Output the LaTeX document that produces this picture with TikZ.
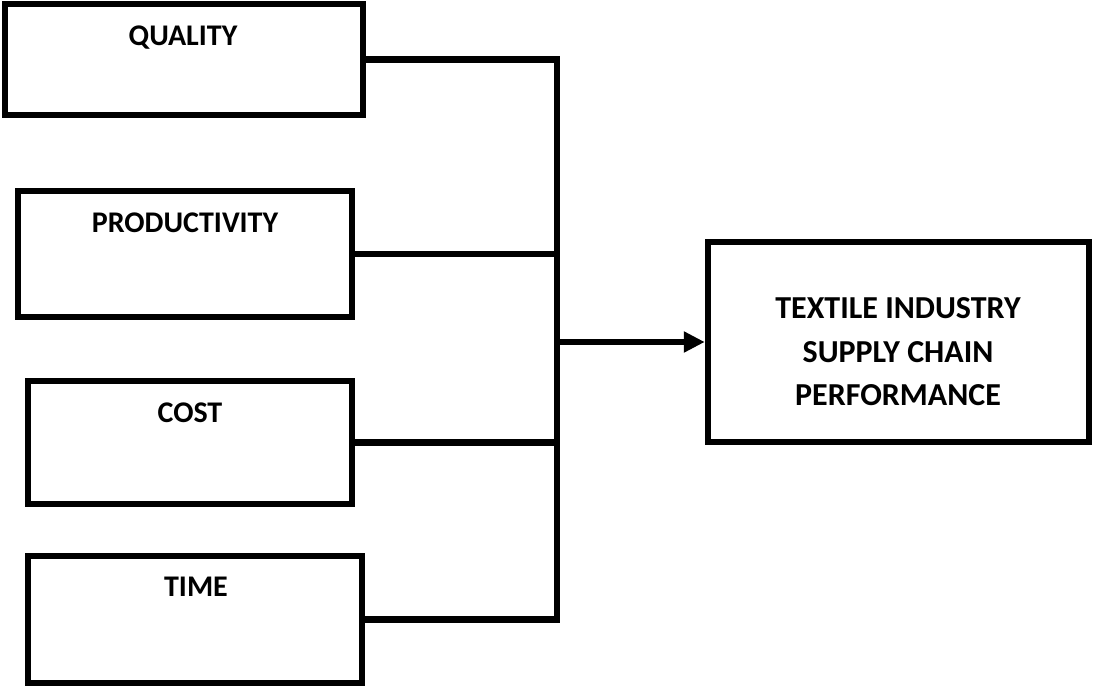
\documentclass[tikz,border=0pt]{standalone}
\usepackage{fontspec}
\setmainfont{Carlito}
\usetikzlibrary{arrows.meta}
\begin{document}
\begin{tikzpicture}[x=1pt,y=1pt,
  box/.style={draw=black,line width=6.5pt,line join=miter,rectangle,inner sep=0pt},
  lbl/.style={font=\fontsize{30}{36}\selectfont\bfseries,anchor=base,inner sep=0pt},
  conn/.style={draw=black,line width=6.5pt,line join=miter}]
\useasboundingbox (0,0) rectangle (1093,-686);
\node[box,minimum width=358pt,minimum height=111pt] (q) at (184,-59.5) {};
\node[box,minimum width=334pt,minimum height=126pt] (p) at (185,-254) {};
\node[box,minimum width=324pt,minimum height=123pt] (c) at (190,-442.5) {};
\node[box,minimum width=334pt,minimum height=127pt] (t) at (195,-619.5) {};
\node[box,minimum width=381pt,minimum height=200pt] (r) at (898.5,-342) {};
\node[lbl] (ql) at (183,-45) {QUALITY};
\node[lbl] (pl) at (185,-232) {PRODUCTIVITY};
\node[lbl] (cl) at (190,-422) {COST};
\node[lbl] (tl) at (196,-596) {TIME};
\node[font=\fontsize{32}{43.5}\selectfont\bfseries,align=center,inner sep=0pt] (rl) at (898,-352)
  {TEXTILE INDUSTRY\\SUPPLY CHAIN\\PERFORMANCE};
\coordinate (bus) at (557,0);
\draw[conn] (q.east) -- (q.east -| bus) -- (t.east -| bus) -- (t.east);
\draw[conn] (p.east) -- (p.east -| bus);
\draw[conn] (c.east) -- (c.east -| bus);
\draw[conn,-{Triangle[length=21pt,width=20pt]}] (r.west -| bus) -- (r.west);
\end{tikzpicture}
\end{document}
